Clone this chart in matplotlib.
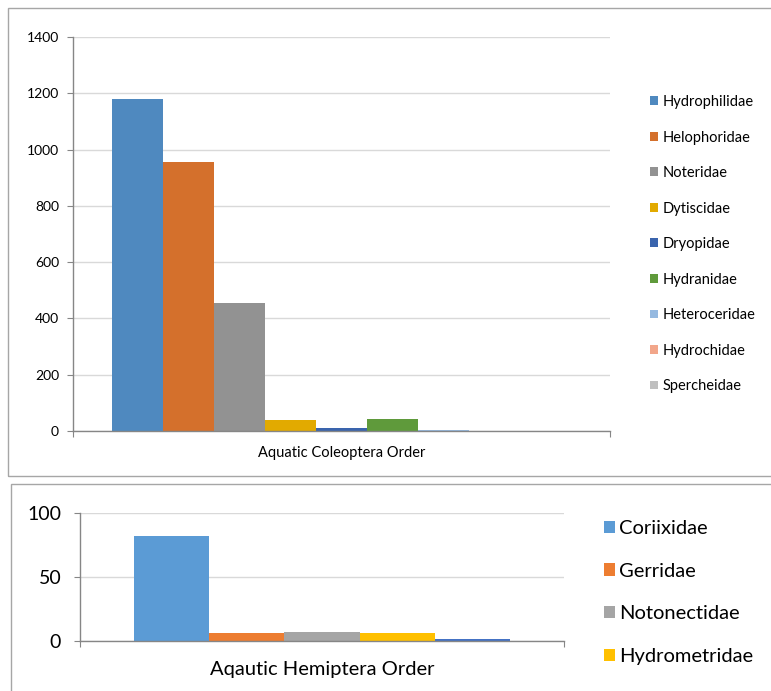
import matplotlib.pyplot as plt
from matplotlib.patches import Rectangle

plt.rcParams['font.family'] = ['Lato', 'DejaVu Sans']

# Coleoptera counts per family
coleo_families = ["Hydrophilidae", "Helophoridae", "Noteridae", "Dytiscidae",
                  "Dryopidae", "Hydranidae", "Heteroceridae", "Hydrochidae",
                  "Spercheidae"]
coleo_counts = [1180, 956, 455, 39, 10, 43, 5, 1, 1]
coleo_colors = ["#4f89bf", "#d4702c", "#929292", "#e2aa00", "#3a64ad",
                "#5f9a3b", "#95b9e0", "#f2a68a", "#bfbfbf"]
coleo_ticks = [0, 200, 400, 600, 800, 1000, 1200, 1400]

# Hemiptera counts per family (last bar has no legend entry)
hemi_families = ["Coriixidae", "Gerridae", "Notonectidae", "Hydrometridae"]
hemi_counts = [82, 6, 7, 5.5, 1]
hemi_colors = ["#5b9bd5", "#ed7d31", "#a5a5a5", "#ffc000", "#4472c4"]
hemi_ticks = [0, 50, 100]

W, H = 771, 691
fig = plt.figure(figsize=(W / 100, H / 100), dpi=100)

grid_c = "#d9d9d9"
axis_c = "#868686"

# panel frames
fig.patches.append(Rectangle((8 / W, 1 - 476 / H), 1.0, 468 / H,
                             transform=fig.transFigure, fill=False,
                             edgecolor="#a6a6a6", lw=1.0))
fig.patches.append(Rectangle((11 / W, -0.05), 1.0, 1 - 484 / H + 0.05,
                             transform=fig.transFigure, fill=False,
                             edgecolor="#a6a6a6", lw=1.0))


def style_axes(ax, ticks, tick_size, pad):
    ax.set_ylim(ticks[0], ticks[-1])
    ax.set_yticks(ticks)
    ax.set_xlim(-0.5, 0.5)
    ax.set_xticks([-0.5, 0.5])
    ax.set_xticklabels(["", ""])
    ax.yaxis.grid(True, color=grid_c, lw=1.0)
    ax.set_axisbelow(True)
    for s in ["top", "right"]:
        ax.spines[s].set_visible(False)
    for s in ["left", "bottom"]:
        ax.spines[s].set_color(axis_c)
        ax.spines[s].set_linewidth(1.0)
    ax.tick_params(axis="y", length=4, color=axis_c, labelsize=tick_size,
                   pad=pad)
    ax.tick_params(axis="x", length=4, color=axis_c)


# top chart
ax1 = fig.add_axes([73 / W, 1 - 431 / H, 537 / W, 394 / H])
group = 0.855
bw = group / len(coleo_counts)
for i, (name, val, col) in enumerate(zip(coleo_families, coleo_counts,
                                         coleo_colors)):
    x = -group / 2 + bw * (i + 0.5)
    ax1.bar(x, val, width=bw, color=col, label=name, zorder=2)
style_axes(ax1, coleo_ticks, 10, 6)
ax1.set_xlabel("Aquatic Coleoptera Order", fontsize=10.5, labelpad=3)
ax1.legend(loc="upper left", bbox_to_anchor=(650 / W, 1 - 95 / H),
           bbox_transform=fig.transFigure, frameon=False, fontsize=10.5,
           handlelength=0.55, handleheight=0.55, handletextpad=0.3,
           labelspacing=1.475, borderaxespad=0, borderpad=0)

# bottom chart
ax2 = fig.add_axes([80 / W, 1 - 640.5 / H, 484 / W, 127.5 / H])
group = 0.775
bw = group / len(hemi_counts)
for i, (val, col) in enumerate(zip(hemi_counts, hemi_colors)):
    x = -group / 2 + bw * (i + 0.5)
    label = hemi_families[i] if i < len(hemi_families) else "_nolegend_"
    ax2.bar(x, val, width=bw, color=col, label=label, zorder=2)
style_axes(ax2, hemi_ticks, 14, 9.5)
ax2.set_xlabel("Aqautic Hemiptera Order", fontsize=14.5, labelpad=7.5)
ax2.legend(loc="upper left", bbox_to_anchor=(604 / W, 1 - 520 / H),
           bbox_transform=fig.transFigure, frameon=False, fontsize=14.5,
           handlelength=0.55, handleheight=0.55, handletextpad=0.2,
           labelspacing=1.27, borderaxespad=0, borderpad=0)

fig.savefig("out.png", dpi=100)
